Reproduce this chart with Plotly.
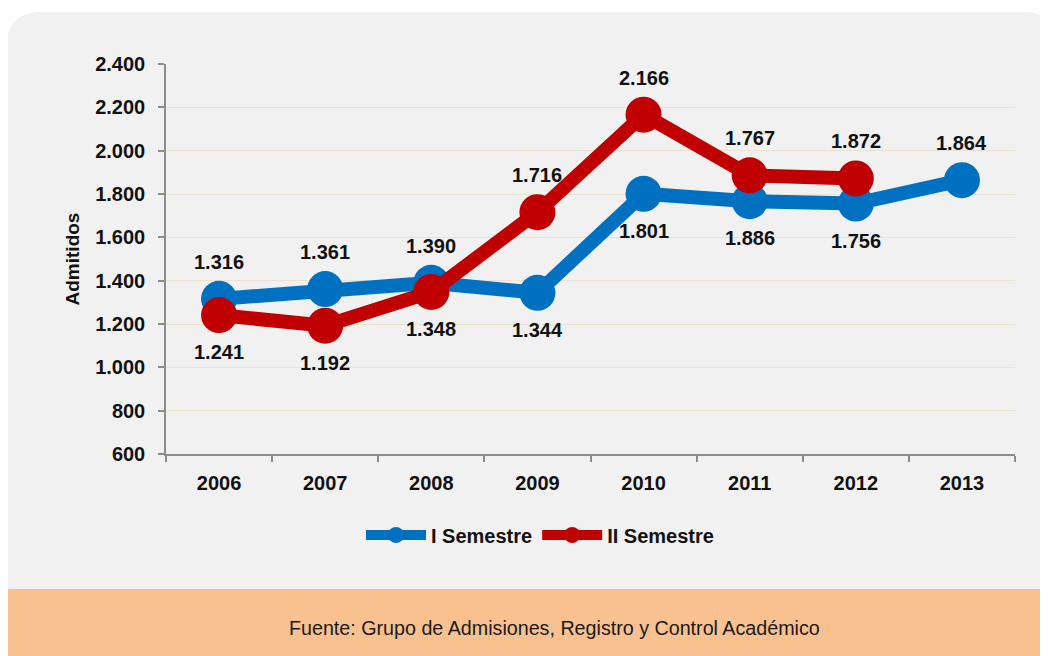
import plotly.graph_objects as go

years = ["2006", "2007", "2008", "2009", "2010", "2011", "2012", "2013"]
sem1_values = [1316, 1361, 1390, 1344, 1801, 1767, 1756, 1864]
sem2_values = [1241, 1192, 1348, 1716, 2166, 1886, 1872]
sem1_labels = ["1.316", "1.361", "1.390", "1.344", "1.801", "1.886", "1.756", "1.864"]
sem2_labels = ["1.241", "1.192", "1.348", "1.716", "2.166", "1.767", "1.872"]
sem1_label_side = [1, 1, 1, -1, -1, -1, -1, 1]
sem2_label_side = [-1, -1, -1, 1, 1, 1, 1]

BLUE = "#0070C0"
RED = "#C00000"
FONT = "Liberation Sans, Arial, sans-serif"

OFF = 8  # page body margin
W, H = 1048 - OFF, 656 - OFF
L, T = 166 - OFF, 64 - OFF
R = W - (1015 - OFF)
B = H - (454 - OFF)
pw, ph = W - L - R, H - T - B


def px(x):
    return (x - OFF - L) / pw


def py(y):
    return (H - B - (y - OFF)) / ph


fig = go.Figure()
fig.add_trace(go.Scatter(
    x=years, y=sem1_values, name="<b>I Semestre</b>", mode="lines+markers",
    line=dict(color=BLUE, width=14), marker=dict(color=BLUE, size=36),
))
fig.add_trace(go.Scatter(
    x=years[:len(sem2_values)], y=sem2_values, name="<b>II Semestre</b>", mode="lines+markers",
    line=dict(color=RED, width=14), marker=dict(color=RED, size=36),
))

annotations = []
for vals, labs, sides in [(sem1_values, sem1_labels, sem1_label_side),
                          (sem2_values, sem2_labels, sem2_label_side)]:
    for i, (v, t, s) in enumerate(zip(vals, labs, sides)):
        annotations.append(dict(x=i, y=v, xref="x", yref="y", text="<b>%s</b>" % t,
                                showarrow=False, yshift=37 * s,
                                font=dict(family=FONT, size=20, color="#111111")))

annotations.append(dict(x=px(554), y=py(628), xref="paper", yref="paper",
                        xanchor="center", yanchor="middle",
                        text="Fuente: Grupo de Admisiones, Registro y Control Académico",
                        showarrow=False, font=dict(family=FONT, size=19.7, color="#1a1a1a")))

r1, r2 = 36, 22
x0, x1, y0, y1 = 6, 1048, 12, 590
panel_path = (
    f"M {px(x0)},{py(y1)} L {px(x0)},{py(y0 + r1)} "
    f"Q {px(x0)},{py(y0)} {px(x0 + r1)},{py(y0)} "
    f"L {px(x1 - r2)},{py(y0)} "
    f"Q {px(x1)},{py(y0)} {px(x1)},{py(y0 + r2)} "
    f"L {px(x1)},{py(y1)} Z"
)
shapes = [
    dict(type="path", path=panel_path, xref="paper", yref="paper",
         fillcolor="#F1F1F1", line=dict(width=0), layer="below"),
    dict(type="rect", xref="paper", yref="paper", x0=px(3), x1=px(1060), y0=py(660), y1=py(589),
         fillcolor="#F9C190", line=dict(width=0), layer="below"),
]

fig.update_layout(
    width=W, height=H,
    margin=dict(l=L, r=R, t=T, b=B, autoexpand=False),
    paper_bgcolor="white", plot_bgcolor="rgba(0,0,0,0)",
    separators=",.",
    font=dict(family=FONT, color="#111111"),
    showlegend=True,
    legend=dict(orientation="h", x=px(540), y=py(535), xanchor="center", yanchor="middle",
                font=dict(family=FONT, size=20, color="#111111"), bgcolor="rgba(0,0,0,0)",
                itemwidth=60, traceorder="normal"),
    shapes=shapes,
    annotations=annotations,
    xaxis=dict(type="category", range=[-0.5, 7.5], tickson="boundaries",
               showline=True, linecolor="#8C8C8C", linewidth=1.5,
               ticks="outside", ticklen=6, tickcolor="#8C8C8C", tickwidth=1.5,
               ticklabelstandoff=10,
               showgrid=False, zeroline=False,
               tickfont=dict(family=FONT, size=20, color="#111111"),
               tickprefix="<b>", ticksuffix="</b>"),
    yaxis=dict(range=[600, 2400], dtick=200, tickformat=",d",
               showline=True, linecolor="#8C8C8C", linewidth=1.5,
               ticks="outside", ticklen=6, tickcolor="#8C8C8C", tickwidth=1.5,
               ticklabelstandoff=9,
               showgrid=True, gridcolor="#EAE3CF", gridwidth=1, zeroline=False,
               tickfont=dict(family=FONT, size=20, color="#111111"),
               tickprefix="<b>", ticksuffix="</b>",
               title=dict(text="<b>Admitidos</b>", standoff=11,
                          font=dict(family=FONT, size=19, color="#111111"))),
)

fig.write_html("out.html")
